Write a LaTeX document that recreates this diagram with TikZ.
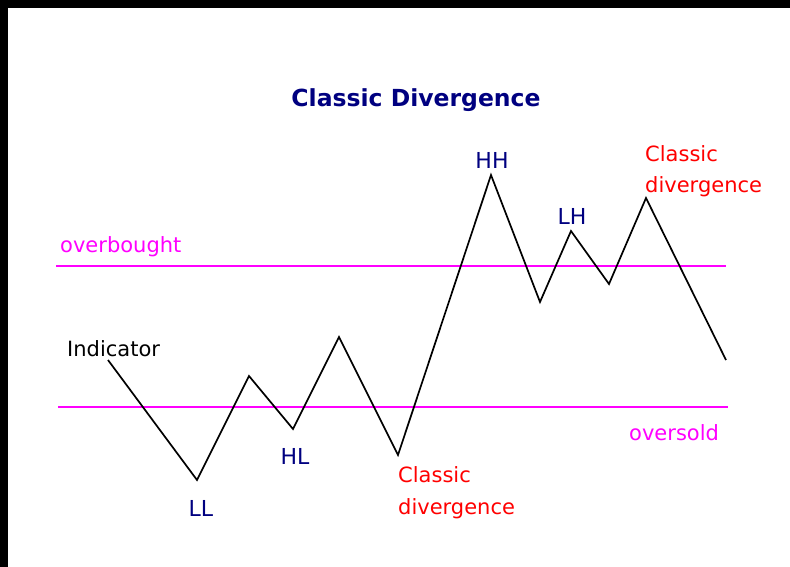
\documentclass[tikz,border=0pt]{standalone}
\usepackage{fontspec}
\setmainfont{DejaVu Sans}
\begin{document}
\begin{tikzpicture}[x=1pt,y=-1pt,
  lbl/.style={inner sep=0pt,font=\fontsize{21}{25}\selectfont},
  peak/.style={inner sep=0pt,text=navyc,anchor=base,font=\fontsize{22}{26}\selectfont},
  note/.style={inner sep=0pt,text=redc,anchor=base west,font=\fontsize{21}{25}\selectfont},
  band/.style={draw=magc,line width=2pt},
  ind/.style={draw=black,line width=1.7pt,line join=miter}]
\definecolor{navyc}{RGB}{0,0,128}
\definecolor{magc}{RGB}{255,0,255}
\definecolor{redc}{RGB}{255,0,0}
\useasboundingbox (0,0) rectangle (790,567);
\fill[black] (0,0) rectangle (790,8);
\fill[black] (0,0) rectangle (8,567);
% title
\node[inner sep=0pt,text=navyc,font=\bfseries\fontsize{23.5}{28}\selectfont] (title) at (416,100) {Classic Divergence};
% bands
\coordinate (ob1) at (56,266); \coordinate (ob2) at (726,266);
\coordinate (os1) at (58,407); \coordinate (os2) at (728,407);
\draw[band] (ob1) -- (ob2);
\draw[band] (os1) -- (os2);
\node[lbl,text=magc,anchor=base west] (overbought) at (60,252) {overbought};
\node[lbl,text=magc,anchor=base west] (oversold) at (629,440) {oversold};
% indicator
\coordinate (p0) at (108,360);
\coordinate (p1) at (197,480);
\coordinate (p2) at (249,376);
\coordinate (p3) at (293,429);
\coordinate (p4) at (339,337);
\coordinate (p5) at (398,455);
\coordinate (p6) at (491,175);
\coordinate (p7) at (540,302);
\coordinate (p8) at (571,231);
\coordinate (p9) at (609,284);
\coordinate (p10) at (646,198);
\coordinate (p11) at (726,360);
\draw[ind] (p0) -- (p1) -- (p2) -- (p3) -- (p4) -- (p5) -- (p6) -- (p7) -- (p8) -- (p9) -- (p10) -- (p11);
\node[lbl,text=black,anchor=base west] (indicator) at (67,356) {Indicator};
% peak labels
\node[peak] (LL) at (201,516) {LL};
\node[peak] (HL) at (295,464) {HL};
\node[peak] (HH) at (492,168) {HH};
\node[peak] (LH) at (572,224) {LH};
% classic divergence notes
\node[note] (cd1a) at (398,482) {Classic};
\node[note] (cd1b) at (398,514) {divergence};
\node[note] (cd2a) at (645,162) {Classic};
\node[note] (cd2b) at (645,193) {divergence};
\end{tikzpicture}
\end{document}
